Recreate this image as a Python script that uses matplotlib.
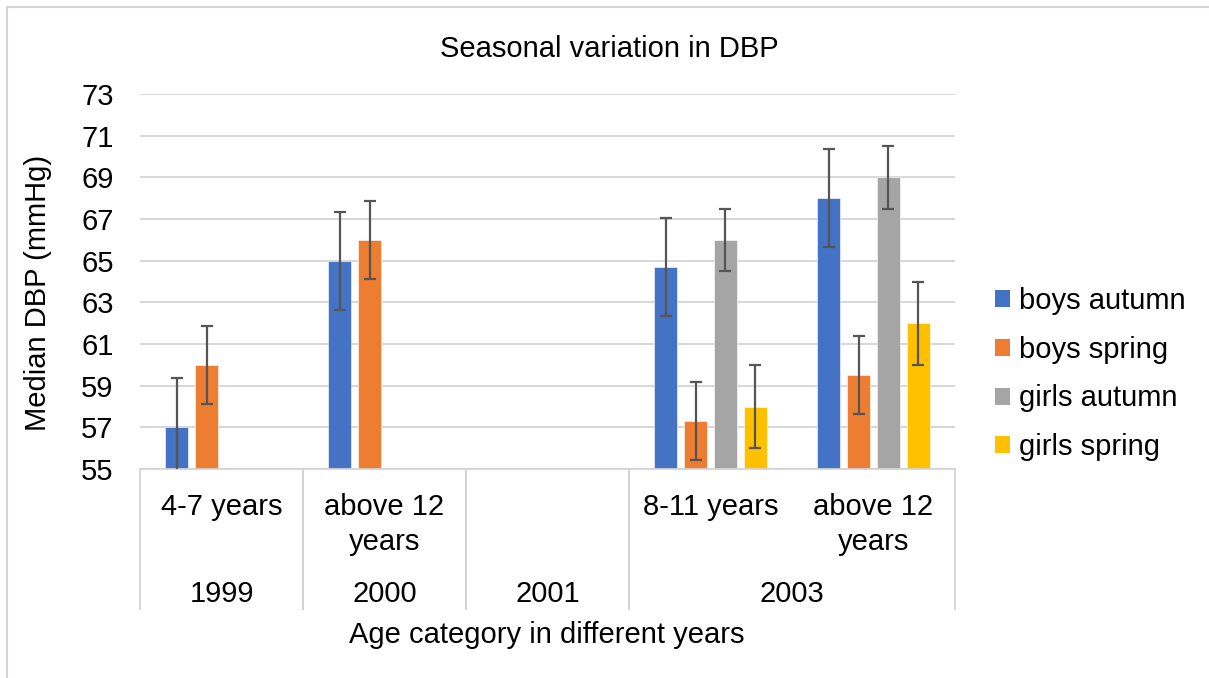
import matplotlib

matplotlib.use("Agg")
import matplotlib.pyplot as plt
import matplotlib.transforms as mtransforms
import numpy as np
from matplotlib.lines import Line2D
from matplotlib.patches import Patch

plt.rcParams["font.family"] = ["Liberation Sans", "DejaVu Sans"]

# category axis: inner (age) and outer (year) levels
AGE_LABELS = ["4-7 years", "above 12\nyears", "", "8-11 years", "above 12\nyears"]
YEAR_LABELS = ["1999", "2000", "2001", "2003"]
YEAR_SPANS = [(0, 0), (1, 1), (2, 2), (3, 4)]  # category index range per year

SERIES = ["boys autumn", "boys spring", "girls autumn", "girls spring"]
nan = np.nan
boys_autumn = [57.0, 65.0, nan, 64.7, 68.0]
boys_spring = [60.0, 66.0, nan, 57.3, 59.5]
girls_autumn = [nan, nan, nan, 66.0, 69.0]
girls_spring = [nan, nan, nan, 58.0, 62.0]
# symmetric error bar half-widths per series
ERR = [2.35, 1.87, 1.5, 2.0]

COLORS = ["#4472C4", "#ED7D31", "#A5A5A5", "#FFC000"]
GRID = "#D4D4D4"
FS = 21
W, H = 1209, 678


def px_y(p):
    """figure fraction from a pixel row measured from the top"""
    return 1 - p / H


fig = plt.figure(figsize=(W / 100, H / 100), dpi=100)
ax = fig.add_axes([140 / W, px_y(469), 815 / W, (469 - 94) / H])

x = np.arange(len(AGE_LABELS))
pitch, width = 0.184, 0.141
for i, (vals, color) in enumerate(
    zip([boys_autumn, boys_spring, girls_autumn, girls_spring], COLORS)
):
    xs = x + (i - 1.5) * pitch
    ax.bar(xs, vals, width=width, color=color, edgecolor="white",
           linewidth=0.4, zorder=2)
    ax.errorbar(xs, vals, yerr=ERR[i], fmt="none", ecolor="#555555",
                elinewidth=1.6, capsize=4, capthick=1.6, zorder=3)

ax.set_xlim(-0.5, len(AGE_LABELS) - 0.5)
ax.set_ylim(55, 73)
ax.set_yticks(np.arange(55, 74, 2))
ax.tick_params(axis="y", length=0, pad=19, labelsize=FS)
ax.set_xticks([])
ax.yaxis.grid(True, color=GRID, linewidth=1.3, zorder=0)
ax.set_axisbelow(True)
for s in ("top", "right", "left"):
    ax.spines[s].set_visible(False)
ax.spines["bottom"].set_color(GRID)
ax.spines["bottom"].set_linewidth(1.3)

# multi-level category labels and separators
trans = mtransforms.blended_transform_factory(ax.transData, fig.transFigure)
for xi, lab in zip(x, AGE_LABELS):
    ax.text(xi, px_y(493), lab, transform=trans, ha="center", va="top",
            fontsize=FS, linespacing=1.32)
for lab, (a, b) in zip(YEAR_LABELS, YEAR_SPANS):
    ax.text((a + b) / 2, px_y(602), lab, transform=trans, ha="center",
            va="baseline", fontsize=FS)
for a, b in YEAR_SPANS:
    for edge in (a - 0.5, b + 0.5):
        ax.add_line(Line2D([edge, edge], [px_y(469), px_y(609)],
                           transform=trans, color=GRID, linewidth=1.3,
                           clip_on=False))

fig.text(547 / W, px_y(643), "Age category in different years", ha="center",
         va="baseline", fontsize=FS)
fig.text(38 / W, px_y(293), "Median DBP (mmHg)", rotation=90, ha="center",
         va="center", fontsize=FS)
fig.text(609 / W, px_y(57), "Seasonal variation in DBP", ha="center",
         va="baseline", fontsize=FS)

handles = [Patch(facecolor=c, edgecolor="none") for c in COLORS]
fig.legend(handles, SERIES, loc="center left",
           bbox_to_anchor=(995 / W, px_y(374)), frameon=False, fontsize=FS,
           handlelength=0.52, handleheight=0.52, handletextpad=0.3,
           labelspacing=0.71, borderpad=0, borderaxespad=0)

# chart-area border (left and top edges visible)
fig.add_artist(Line2D([7 / W, 7 / W], [0, px_y(7)], color=GRID, linewidth=1.5))
fig.add_artist(Line2D([7 / W, 1], [px_y(7), px_y(7)], color=GRID, linewidth=1.5))

fig.savefig("out.png", dpi=100, facecolor="white")
